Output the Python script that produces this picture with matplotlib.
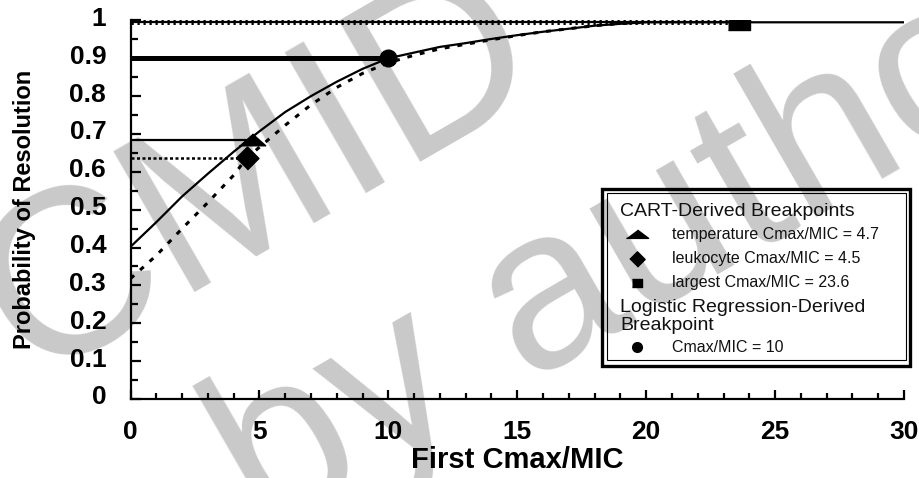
import matplotlib
matplotlib.use("Agg")
import matplotlib.pyplot as plt
from matplotlib.lines import Line2D
from matplotlib.patches import Rectangle
from matplotlib.transforms import ScaledTranslation

# ---- data -------------------------------------------------------------
# logistic-regression probability curve (solid)
logit_x = [0, 1, 2, 3, 4, 5, 6, 7, 8, 9, 10, 11, 12, 13, 14, 15, 16, 17, 18, 19, 20, 30]
logit_y = [0.402, 0.467, 0.535, 0.595, 0.653, 0.707, 0.758, 0.800, 0.838, 0.872,
           0.900, 0.915, 0.930, 0.940, 0.951, 0.961, 0.970, 0.978, 0.986, 0.991,
           0.995, 0.995]

# CART-based probability curve (dotted)
cart_x = [0, 1, 2, 3, 4, 4.5, 5, 6, 7, 8, 9, 10, 11, 12, 13, 14, 15, 16, 17, 18, 19, 20]
cart_y = [0.318, 0.379, 0.450, 0.519, 0.591, 0.636, 0.665, 0.723, 0.777, 0.823,
          0.860, 0.888, 0.908, 0.925, 0.937, 0.949, 0.960, 0.970, 0.978, 0.986,
          0.992, 0.995]

# breakpoints: temperature, leukocyte, largest, logistic
bp_labels = ["temperature Cmax/MIC = 4.7", "leukocyte Cmax/MIC = 4.5",
             "largest Cmax/MIC = 23.6", "Cmax/MIC = 10"]
bp_x = [4.7, 4.5, 23.6, 10]
bp_y = [0.684, 0.636, 0.995, 0.900]

x_ticks = [0, 5, 10, 15, 20, 25, 30]
x_ticklabels = ["0", "5", "10", "15", "20", "25", "30"]
y_ticks = [0, 0.1, 0.2, 0.3, 0.4, 0.5, 0.6, 0.7, 0.8, 0.9, 1.0]
y_ticklabels = ["0", "0.1", "0.2", "0.3", "0.4", "0.5", "0.6", "0.7", "0.8", "0.9", "1"]

FONT = "Liberation Sans"
W, H = 920, 478

def fx(px):
    return px / W

def fy(py):
    return 1 - py / H

fig = plt.figure(figsize=(W / 100, H / 100), dpi=100, facecolor="white")

# watermark behind everything, anchored at the start of each baseline
wm = dict(family=FONT, color="#c9c9c9", rotation=30, rotation_mode="anchor",
          ha="left", va="baseline", zorder=-5)
fig.text(fx(30), fy(380), "CMID", fontsize=169, **wm)
fig.text(fx(262), fy(537), "by author", fontsize=165, **wm)

ax = fig.add_axes([fx(130.5), fy(399), fx(904) - fx(130.5), fy(20.4) - fy(399)])
ax.set_facecolor("none")
ax.set_xlim(0, 30)
ax.set_ylim(0, 1)

for s in ["top", "right"]:
    ax.spines[s].set_visible(False)
for s in ["left", "bottom"]:
    ax.spines[s].set_linewidth(1.6)
    ax.spines[s].set_color("black")

# curves
ax.plot(logit_x, logit_y, color="black", lw=1.6, solid_capstyle="butt", zorder=3)
ax.plot(cart_x, cart_y, color="black", lw=2.2, linestyle=(0, (1.6, 2.6)), zorder=3)

# reference lines from the y axis to each breakpoint
ax.plot([0, bp_x[0]], [bp_y[0], bp_y[0]], color="black", lw=1.6, zorder=3)
ax.plot([0, bp_x[1]], [bp_y[1], bp_y[1]], color="black", lw=1.8,
        linestyle=(0, (1.2, 1.0)), zorder=3)
ax.plot([0, bp_x[3]], [bp_y[3], bp_y[3]], color="black", lw=3.6,
        solid_capstyle="butt", zorder=3)
ax.plot([0, bp_x[2]], [bp_y[2], bp_y[2]], color="black", lw=1.6, zorder=3)
ax.plot([0, bp_x[2]], [bp_y[2], bp_y[2]], color="black", lw=3.6,
        linestyle=(0, (0.45, 0.75)), zorder=3)

# breakpoint markers
tri = [(-1, -0.4), (1, -0.4), (0, 0.5)]
dia = [(-1, 0), (0, 1), (1, 0), (0, -1)]
rect = [(-1, -0.7), (1, -0.7), (1, 0.7), (-1, 0.7)]
ax.plot([bp_x[0]], [bp_y[0]], marker=tri, ms=19, color="black", ls="none", zorder=4)
ax.plot([bp_x[1]], [bp_y[1]], marker=dia, ms=16.5, color="black", ls="none", zorder=4)
ax.plot([bp_x[2]], [bp_y[2]], marker=rect, ms=16, color="black", ls="none", zorder=4)
ax.plot([bp_x[3]], [bp_y[3]], marker="o", ms=12, color="black", ls="none", zorder=4)

# ticks
ax.set_xticks(x_ticks)
ax.set_xticklabels(x_ticklabels)
ax.set_xticks(range(0, 31), minor=True)
ax.set_yticks(y_ticks)
ax.set_yticklabels(y_ticklabels)
ax.set_yticks([0.05 + 0.1 * i for i in range(10)], minor=True)
ax.tick_params(which="both", direction="in", width=1.6, color="black")
ax.tick_params(axis="y", which="major", length=7.5, pad=17.5)
ax.tick_params(axis="y", which="minor", length=5)
ax.tick_params(axis="x", which="major", length=6.5, pad=15)
ax.tick_params(axis="x", which="minor", length=4)
for lab in ax.get_xticklabels() + ax.get_yticklabels():
    lab.set_fontfamily(FONT)
    lab.set_fontweight("bold")
    lab.set_fontsize(19)
for lab in ax.get_yticklabels():
    lab.set_transform(lab.get_transform() + ScaledTranslation(0, 4 / 100, fig.dpi_scale_trans))

fig.text(fx(517), fy(460), "First Cmax/MIC", family=FONT, fontweight="bold",
         fontsize=21, ha="center", va="center")
fig.text(fx(25), fy(209), "Probability of Resolution", family=FONT, fontweight="bold",
         fontsize=17, ha="center", va="center", rotation=90)

# legend box (double border)
fig.add_artist(Rectangle((fx(602.5), fy(365.5)), fx(910.5) - fx(602.5), fy(188.5) - fy(365.5),
                         transform=fig.transFigure, fill=False, lw=2.4, ec="black", zorder=6))
fig.add_artist(Rectangle((fx(607.5), fy(359.5)), fx(906) - fx(607.5), fy(193) - fy(359.5),
                         transform=fig.transFigure, fill=False, lw=0.8, ec="black", zorder=6))

hdr = dict(family=FONT, fontsize=14, ha="left", va="center", color="#111111", zorder=7)
ent = dict(family=FONT, fontsize=11.5, ha="left", va="center", color="#111111", zorder=7)
fig.text(fx(620), fy(212), "CART-Derived Breakpoints", **hdr)
fig.text(fx(620), fy(307), "Logistic Regression-Derived", **hdr)
fig.text(fx(620), fy(325), "Breakpoint", **hdr)

leg_rows = [234, 259, 283, 347]
leg_markers = [
    dict(marker=[(-1, -0.35), (1, -0.35), (0, 0.4)], ms=16),
    dict(marker=dia, ms=11),
    dict(marker=[(-1, -0.8), (1, -0.8), (1, 0.8), (-1, 0.8)], ms=7),
    dict(marker="o", ms=7),
]
for row, lab, mk in zip(leg_rows, bp_labels, leg_markers):
    fig.add_artist(Line2D([fx(637)], [fy(row)], transform=fig.transFigure, color="black",
                          ls="none", zorder=7, **mk))
    fig.text(fx(672), fy(row), lab, **ent)

fig.savefig("out.png", dpi=100, facecolor="white")
